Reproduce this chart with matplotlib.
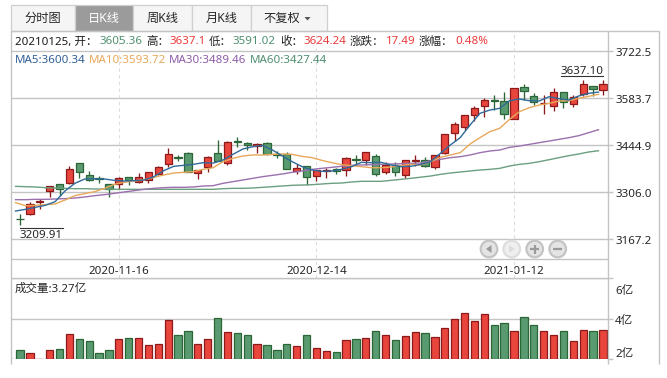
import matplotlib
matplotlib.use("Agg")
import matplotlib.pyplot as plt
from matplotlib.patches import Rectangle, Circle, Polygon
from matplotlib.transforms import ScaledTranslation
import numpy as np

plt.rcParams['font.family'] = ['Noto Sans', 'Noto Sans CJK SC', 'DejaVu Sans']

opens = [3227.5,3242,3275.4,3309.8,3328.4,3331.4,3390.3,3355,3346,3328.4,3328.4,3349,3335.3,3340.2,3358.9,3387.4,3408,3419.8,3360.8,3378.5,
         3419.8,3390.3,3455.1,3449.2,3440.4,3449.2,3418.8,3416.8,3368.7,3381.5,3352,3366.7,3373.6,3369.7,3402,3399.1,3410.9,3365.7,3384.4,3354.9,
         3397.2,3399.1,3378.5,3421.7,3478.7,3496.3,3533.7,3558.2,3577.9,3573,3521.9,3614.2,3587.7,3567,3558.2,3599.5,3566.1,3593.6,3617.2,3605.36]
closes = [3225.5,3270.5,3279.3,3322.5,3315.6,3374.6,3363.8,3342.2,3343,3313.7,3348,3342.2,3349,3363.8,3378.5,3416.8,3405,3365.7,3369.7,3410,
          3396.2,3452.2,3452.2,3443.3,3446.3,3418.8,3413.9,3372.6,3375.6,3349,3369.7,3369.7,3368.7,3405,3399.1,3422.7,3357.9,3384.4,3365.7,3399.1,
          3400.1,3381.5,3415.8,3475.7,3505.2,3531.7,3552.3,3577.9,3573,3534.7,3611.3,3602.4,3570,3569,3599.5,3570,3584.8,3623,3608.3,3624.24]
highs = [3241,3277.3,3285.2,3324.5,3328.4,3381.5,3390.3,3366.7,3353,3328.4,3349,3349,3360.8,3365.7,3381.5,3434.5,3414.9,3424.7,3369.7,3411.9,
         3459,3457.1,3466.9,3453.2,3449.2,3453.2,3426.6,3422.7,3387.4,3383.4,3371.6,3375.6,3375.6,3408,3414.9,3424.7,3416.8,3395.2,3395.2,3400.1,
         3414.9,3408,3415.8,3475.7,3513,3533.7,3558.2,3581.8,3590.6,3599.5,3611.3,3623,3596.5,3591.6,3611.3,3601.5,3590.6,3636,3617.2,3637.1]
lows = [3209.91,3239,3254.7,3292,3294,3329.4,3346,3339.2,3331.4,3292,3314.7,3325.5,3331.4,3331.4,3355.9,3380.5,3397.2,3365.7,3345,3365.7,
        3396.2,3386.4,3437.5,3429.6,3419.8,3414.9,3405,3372.6,3357.9,3326.4,3339.2,3348,3359.9,3354,3385.4,3385.4,3354,3358.9,3354,3348,
        3383.4,3378.5,3374.5,3417.8,3457.1,3488.5,3516,3527.8,3547.4,3520,3520,3576.9,3562.2,3534.7,3545.5,3554.3,3557.2,3588.7,3588.7,3591.02]
ma5 = [3249.8,3254.7,3260.6,3266.5,3277.3,3308.8,3331.4,3344.1,3345.1,3344.1,3340.2,3338.2,3339.2,3341.2,3351,3368.7,3381.5,3384.4,3387.4,3392.3,
       3391,3400.1,3416.8,3432.5,3439.4,3443.3,3429.6,3411.9,3395.2,3380.5,3370.7,3366.7,3367.7,3372.6,3380.5,3393.2,3392.3,3393.2,3385.4,3380.5,
       3381.5,3387,3395.2,3419.7,3444.3,3465.9,3503.2,3537.6,3547.4,3552.3,3574.9,3579.8,3574.9,3574,3586.7,3580.8,3576.9,3588.7,3596.5,3600.34]
ma10 = [3274.4,3265.5,3266.5,3268.5,3270.5,3282.2,3295,3300.9,3306.8,3316.6,3328.4,3334.3,3338.2,3342.2,3349,3355.9,3361.8,3363.8,3365.7,3372.6,
        3377.5,3395.2,3405,3411.9,3414.9,3414.9,3416.8,3417.8,3416.8,3410.9,3407,3399.1,3392.3,3386.4,3383.4,3380.5,3377.5,3377.5,3379.5,3383.4,
        3387.4,3385.3,3395.2,3408,3414.8,3421.7,3447.2,3465.9,3483.6,3493.4,3519.9,3542.5,3554.3,3562.2,3567,3574,3574.9,3581.8,3587.7,3593.72]
ma30 = [3283.2,3283.2,3284.2,3284.2,3285.2,3286.2,3288.1,3291.1,3295,3298,3301.9,3305.8,3309.8,3313.7,3316.6,3318.6,3319.6,3319.6,3320.6,3323.5,
        3324.5,3331.4,3336.3,3341.2,3346.1,3351,3354.9,3358.9,3363.8,3367.7,3372.6,3375.6,3378.5,3381.5,3384.4,3385.4,3386.4,3387.4,3388.3,3389.3,
        3390.3,3391.2,3398.1,3402,3407,3409.9,3414.8,3421.7,3426.6,3429.5,3437.4,3441.3,3446.2,3451.2,3456,3461,3465.9,3471.8,3480.6,3489.46]
ma60 = [3322.5,3321.5,3320.6,3318.6,3317.6,3316.6,3315.6,3315.6,3314.7,3314.7,3313.7,3313.7,3313.7,3313.7,3313.7,3313.7,3313.7,3313.7,3313.7,3313.7,
        3313.7,3315.6,3316.6,3316.6,3317.6,3319.6,3321.5,3323.5,3325.5,3326.4,3327.4,3329.4,3331.4,3332.3,3335.3,3337.3,3337.3,3337.3,3340.2,3343.1,
        3346.1,3349.5,3352.9,3357.8,3361.8,3364.7,3367.7,3370.6,3372.6,3375.5,3382.4,3387.3,3390.3,3395.2,3401,3407,3412.9,3417.8,3423.7,3427.44]
volumes = [2.44,2.29,2.02,2.44,2.49,3.27,2.98,2.88,2.29,2.44,2.98,3.03,3.03,2.69,2.78,3.96,3.18,3.42,2.74,2.98,
           4.06,3.37,3.32,3.18,2.74,2.69,2.44,2.78,2.64,3.18,2.54,2.39,2.34,2.93,2.98,3.03,3.42,3.18,2.93,3.13,
           3.37,3.32,3.08,3.57,4.01,4.30,3.91,4.25,3.67,3.81,3.42,4.11,3.67,3.42,3.18,3.42,2.88,3.47,3.42,3.47]
price_ticks = [3167.2, 3306.0, 3444.9, 3583.7, 3722.5]
price_tick_labels = ['3167.2', '3306.0', '3444.9', '3583.7', '3722.5']
vol_ticks = [2, 4, 6]
vol_tick_labels = ['2亿', '4亿', '6亿']
date_positions = [10, 30, 50]
date_labels = ['2020-11-16', '2020-12-14', '2021-01-12']
tabs = ['分时图', '日K线', '周K线', '月K线', '不复权']

W, H = 667, 378
RED, RED_E = '#e8453c', '#8c1a1a'
GRN, GRN_E = '#5a9a70', '#2a6636'
GRID = '#c4c4c4'
TXT = '#262626'
FS = 8.3

fig = plt.figure(figsize=(W/100, H/100), dpi=100, facecolor='white')
def rect(x0, y0, x1, y1):
    return [x0/W, 1-y1/H, (x1-x0)/W, (y1-y0)/H]

AX_L, AX_R = 10.5, 608.3
ax = fig.add_axes(rect(AX_L, 31.2, AX_R, 259.3))
vx = fig.add_axes(rect(AX_L, 278.3, AX_R, 359.3))

days = np.arange(len(opens))
xlim = ((AX_L-20)/9.88, (AX_R-20)/9.88)

for a in (ax, vx):
    a.set_xlim(*xlim)
    for s in ('top', 'left', 'bottom', 'right'):
        a.spines[s].set_visible(False)
    a.patch.set_alpha(0)
    a.yaxis.tick_right()
    a.set_axisbelow(True)

def shift_down(label, px):
    label.set_transform(label.get_transform() + ScaledTranslation(0, -px/100, fig.dpi_scale_trans))

ax.set_ylim(3107.5, 3779.7)
ax.set_yticks(price_ticks, price_tick_labels)
ax.tick_params(axis='y', length=3.5, width=1.0, color=GRID, pad=1.5, labelsize=FS, labelcolor=TXT)
ax.grid(axis='y', color=GRID, lw=1.0)
for lab in ax.get_yticklabels():
    shift_down(lab, 1.4)
ax.set_xticks(date_positions, date_labels)
ax.tick_params(axis='x', length=0, pad=5, labelsize=FS, labelcolor=TXT)
for d in date_positions:
    ax.plot([d, d], [-0.084, 1], transform=ax.get_xaxis_transform(), clip_on=False,
            color='#dddddd', lw=0.8, ls=(0, (3, 3)), zorder=1)

vx.set_ylim(2, 6)
vx.set_yticks(vol_ticks, vol_tick_labels)
vx.tick_params(axis='y', length=3.5, width=1.0, color=GRID, pad=1.5, labelsize=FS, labelcolor=TXT)
for lab, dy in zip(vx.get_yticklabels(), [-6, 1.5, 11.5]):
    shift_down(lab, dy)
vx.grid(axis='y', color=GRID, lw=1.0)
vx.set_xticks([])

fills = [RED if c >= o else GRN for o, c in zip(opens, closes)]
edges = [RED_E if c >= o else GRN_E for o, c in zip(opens, closes)]
BW = 0.74
ax.vlines(days, lows, highs, colors=edges, lw=0.95, zorder=3)
ax.bar(days, np.array(closes)-np.array(opens), bottom=opens, width=BW, color=fills,
       edgecolor=edges, linewidth=0.9, zorder=4)
vx.bar(days, np.array(volumes)-2, bottom=2, width=BW, color=fills, edgecolor=edges, linewidth=0.9, zorder=3)

line_x = days - 0.45
for vals, col in ((ma60, '#6a9f80'), (ma30, '#9a70ae'), (ma10, '#e8a85a'), (ma5, '#2f6a9a')):
    ax.plot(line_x, vals, color=col, lw=1.0, zorder=5, solid_joinstyle='round')

# page furniture on a pixel-coordinate layer
ov = fig.add_axes([0, 0, 1, 1], zorder=10)
ov.set_xlim(0, W); ov.set_ylim(H, 0); ov.axis('off'); ov.patch.set_alpha(0)
F = '#c4c4c4'
for xs, ys in (([AX_L, AX_L], [31, 363.5]), ([AX_R, AX_R], [31, 363.5]), ([659.3, 659.3], [31, 363.5]),
               ([AX_L, 659.3], [31.2, 31.2]), ([AX_L, AX_R], [259.3, 259.3]), ([AX_L, AX_R], [278.3, 278.3])):
    ov.plot(xs, ys, color=F, lw=1.0, solid_capstyle='butt')

tab_edges = [10.5, 75, 133, 192, 251, 327]
for i, name in enumerate(tabs):
    x0, x1 = tab_edges[i], tab_edges[i+1]
    active = i == 1
    ov.add_patch(Rectangle((x0, 5), x1-x0, 25.5, fc='#9b9b9b' if active else '#f5f5f5', ec='#cfcfcf', lw=0.9))
    cx = (x0+x1)/2 if i != 4 else 281.5
    ov.text(cx, 18.8, name, ha='center', va='center', fontsize=8.8, color='white' if active else TXT)
ov.add_patch(Polygon([[304.5, 17], [310.5, 17], [307.5, 20.5]], fc='#555555', ec='none'))

info = [(15, '20210125, 开：', '#1a1a1a'), (99, '3605.36', '#4f9070'), (146, '高：', TXT), (169.5, '3637.1', '#ee3b3b'),
        (209, '低：', TXT), (232.5, '3591.02', '#4f9070'), (280, '收：', TXT), (303.5, '3624.24', '#ee3b3b'),
        (350, '涨跌：', TXT), (386, '17.49', '#ee3b3b'), (419, '涨幅：', TXT), (455, '0.48%', '#ee3b3b')]
for x, s, c in info:
    ov.text(x, 42, s, ha='left', va='center', fontsize=FS, color=c)
mas = [(15, 'MA5:3600.34', '#2f5f96'), (89, 'MA10:3593.72', '#e8a85a'), (169, 'MA30:3489.46', '#8e5ca8'), (249.5, 'MA60:3427.44', '#4f9070')]
for x, s, c in mas:
    ov.text(x, 60.5, s, ha='left', va='center', fontsize=FS, color=c)
ov.text(15, 289, '成交量:3.27亿', ha='left', va='center', fontsize=FS, color=TXT)

ov.text(582, 71.5, '3637.10', ha='center', va='center', fontsize=FS, color=TXT)
ov.plot([561, 603], [75.5, 75.5], color='#333333', lw=0.8)
ov.text(41, 235.5, '3209.91', ha='center', va='center', fontsize=FS, color=TXT)
ov.plot([20, 62.5], [227.5, 227.5], color='#333333', lw=0.8)

for k, cx in enumerate((489, 511.7, 534.7, 557.7)):
    pale = k == 1
    ov.add_patch(Circle((cx, 249), 8.3, fc='#efefef' if pale else '#e4e4e4', ec='#dddddd' if pale else '#c4c4c4', lw=1.6))
    col = '#dcdcdc' if pale else '#9a9a9a'
    if k == 0:
        ov.add_patch(Polygon([[cx+2.5, 245], [cx+2.5, 253], [cx-3, 249]], fc=col, ec='none'))
    elif k == 1:
        ov.add_patch(Polygon([[cx-2.5, 245], [cx-2.5, 253], [cx+3, 249]], fc=col, ec='none'))
    else:
        ov.plot([cx-4.5, cx+4.5], [249, 249], color=col, lw=1.6, solid_capstyle='butt')
        if k == 2:
            ov.plot([cx, cx], [244.5, 253.5], color=col, lw=1.6, solid_capstyle='butt')

fig.savefig('out.png', dpi=100, facecolor='white')
